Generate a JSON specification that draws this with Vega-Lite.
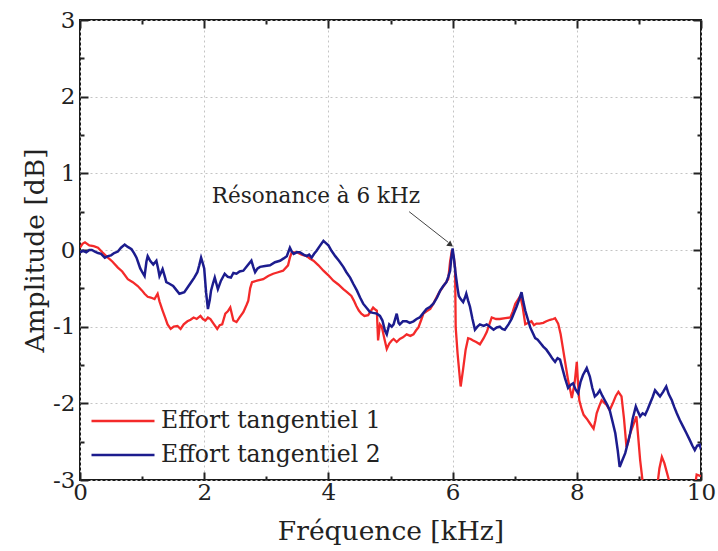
{
  "$schema": "https://vega.github.io/schema/vega-lite/v6.json",
  "width": 621,
  "height": 460,
  "autosize": {"type": "none"},
  "padding": {"left": 80, "top": 20, "right": 17, "bottom": 71},
  "background": "white",
  "config": {
    "view": {"stroke": "#1a1a1a", "strokeWidth": 2},
    "font": "DejaVu Serif",
    "text": {"font": "DejaVu Serif"}
  },
  "datasets": {
    "r": [
      {"f":0.00,"a":0.03},{"f":0.04,"a":0.08},{"f":0.08,"a":0.10},{"f":0.15,"a":0.06},{"f":0.22,"a":0.05},{"f":0.29,"a":0.03},{"f":0.36,"a":-0.03},{"f":0.45,"a":-0.10},{"f":0.52,"a":-0.15},{"f":0.61,"a":-0.23},{"f":0.68,"a":-0.28},{"f":0.77,"a":-0.38},{"f":0.85,"a":-0.42},{"f":0.93,"a":-0.47},{"f":1.00,"a":-0.53},{"f":1.04,"a":-0.57},{"f":1.09,"a":-0.61},{"f":1.14,"a":-0.62},{"f":1.20,"a":-0.64},{"f":1.25,"a":-0.57},{"f":1.28,"a":-0.67},{"f":1.33,"a":-0.79},{"f":1.37,"a":-0.88},{"f":1.41,"a":-0.97},{"f":1.46,"a":-1.03},{"f":1.51,"a":-1.00},{"f":1.57,"a":-0.99},{"f":1.62,"a":-1.03},{"f":1.67,"a":-0.97},{"f":1.73,"a":-0.93},{"f":1.78,"a":-0.91},{"f":1.83,"a":-0.88},{"f":1.88,"a":-0.90},{"f":1.94,"a":-0.86},{"f":1.98,"a":-0.90},{"f":2.02,"a":-0.92},{"f":2.06,"a":-0.88},{"f":2.10,"a":-0.90},{"f":2.15,"a":-0.96},{"f":2.21,"a":-1.03},{"f":2.25,"a":-0.98},{"f":2.29,"a":-0.97},{"f":2.34,"a":-0.83},{"f":2.38,"a":-0.80},{"f":2.42,"a":-0.75},{"f":2.47,"a":-0.92},{"f":2.52,"a":-0.94},{"f":2.57,"a":-0.88},{"f":2.63,"a":-0.81},{"f":2.68,"a":-0.72},{"f":2.71,"a":-0.66},{"f":2.74,"a":-0.50},{"f":2.77,"a":-0.42},{"f":2.85,"a":-0.40},{"f":2.95,"a":-0.38},{"f":3.03,"a":-0.34},{"f":3.11,"a":-0.31},{"f":3.19,"a":-0.29},{"f":3.27,"a":-0.27},{"f":3.35,"a":-0.20},{"f":3.38,"a":-0.10},{"f":3.41,"a":-0.03},{"f":3.49,"a":-0.03},{"f":3.57,"a":-0.06},{"f":3.65,"a":-0.08},{"f":3.70,"a":-0.11},{"f":3.76,"a":-0.14},{"f":3.84,"a":-0.20},{"f":3.92,"a":-0.27},{"f":4.00,"a":-0.33},{"f":4.08,"a":-0.40},{"f":4.16,"a":-0.45},{"f":4.24,"a":-0.51},{"f":4.30,"a":-0.55},{"f":4.37,"a":-0.60},{"f":4.41,"a":-0.66},{"f":4.45,"a":-0.73},{"f":4.49,"a":-0.79},{"f":4.53,"a":-0.83},{"f":4.58,"a":-0.86},{"f":4.64,"a":-0.85},{"f":4.68,"a":-0.80},{"f":4.72,"a":-0.75},{"f":4.76,"a":-0.78},{"f":4.78,"a":-0.79},{"f":4.80,"a":-1.18},{"f":4.83,"a":-0.97},{"f":4.86,"a":-1.00},{"f":4.90,"a":-1.15},{"f":4.94,"a":-1.29},{"f":4.98,"a":-1.22},{"f":5.02,"a":-1.18},{"f":5.05,"a":-1.16},{"f":5.10,"a":-1.20},{"f":5.15,"a":-1.16},{"f":5.20,"a":-1.14},{"f":5.26,"a":-1.10},{"f":5.32,"a":-1.12},{"f":5.37,"a":-1.10},{"f":5.41,"a":-1.05},{"f":5.45,"a":-1.01},{"f":5.50,"a":-0.90},{"f":5.53,"a":-0.83},{"f":5.58,"a":-0.80},{"f":5.64,"a":-0.77},{"f":5.69,"a":-0.70},{"f":5.74,"a":-0.62},{"f":5.78,"a":-0.56},{"f":5.82,"a":-0.51},{"f":5.87,"a":-0.45},{"f":5.93,"a":-0.38},{"f":5.96,"a":-0.15},{"f":5.99,"a":0.00},{"f":6.02,"a":-0.10},{"f":6.04,"a":-0.23},{"f":6.05,"a":-1.01},{"f":6.08,"a":-1.35},{"f":6.12,"a":-1.70},{"f":6.13,"a":-1.78},{"f":6.17,"a":-1.55},{"f":6.21,"a":-1.30},{"f":6.25,"a":-1.15},{"f":6.29,"a":-1.16},{"f":6.33,"a":-1.18},{"f":6.38,"a":-1.20},{"f":6.44,"a":-1.23},{"f":6.50,"a":-1.15},{"f":6.55,"a":-1.07},{"f":6.60,"a":-0.95},{"f":6.63,"a":-0.88},{"f":6.70,"a":-0.90},{"f":6.76,"a":-0.90},{"f":6.85,"a":-0.89},{"f":6.93,"a":-0.88},{"f":6.97,"a":-0.80},{"f":7.01,"a":-0.70},{"f":7.05,"a":-0.65},{"f":7.09,"a":-0.60},{"f":7.13,"a":-0.75},{"f":7.17,"a":-0.97},{"f":7.22,"a":-0.95},{"f":7.27,"a":-0.93},{"f":7.31,"a":-0.98},{"f":7.35,"a":-0.96},{"f":7.40,"a":-0.96},{"f":7.46,"a":-0.95},{"f":7.51,"a":-0.93},{"f":7.57,"a":-0.91},{"f":7.62,"a":-0.90},{"f":7.65,"a":-0.89},{"f":7.70,"a":-0.96},{"f":7.74,"a":-1.10},{"f":7.78,"a":-1.30},{"f":7.82,"a":-1.50},{"f":7.86,"a":-1.70},{"f":7.90,"a":-1.85},{"f":7.92,"a":-1.93},{"f":7.95,"a":-1.80},{"f":7.97,"a":-1.70},{"f":8.00,"a":-1.46},{"f":8.02,"a":-1.75},{"f":8.04,"a":-1.96},{"f":8.08,"a":-2.08},{"f":8.11,"a":-2.15},{"f":8.16,"a":-2.20},{"f":8.21,"a":-2.26},{"f":8.27,"a":-2.33},{"f":8.30,"a":-2.22},{"f":8.32,"a":-2.13},{"f":8.36,"a":-2.04},{"f":8.40,"a":-1.96},{"f":8.44,"a":-1.99},{"f":8.48,"a":-2.02},{"f":8.53,"a":-2.09},{"f":8.59,"a":-1.98},{"f":8.63,"a":-1.90},{"f":8.67,"a":-1.85},{"f":8.72,"a":-1.91},{"f":8.76,"a":-2.20},{"f":8.80,"a":-2.57},{"f":8.83,"a":-2.50},{"f":8.86,"a":-2.39},{"f":8.91,"a":-2.28},{"f":8.96,"a":-2.17},{"f":8.99,"a":-2.45},{"f":9.02,"a":-2.74},{"f":9.05,"a":-2.95},{"f":9.07,"a":-3.10},{"f":9.15,"a":-3.30},{"f":9.25,"a":-3.20},{"f":9.30,"a":-3.05},{"f":9.33,"a":-2.85},{"f":9.37,"a":-2.70},{"f":9.41,"a":-2.78},{"f":9.45,"a":-2.90},{"f":9.50,"a":-3.05},{"f":9.60,"a":-3.25},{"f":9.80,"a":-3.25},{"f":9.90,"a":-3.10},{"f":9.93,"a":-2.93},{"f":10.00,"a":-2.95}
    ],
    "b": [
      {"f":0.00,"a":-0.03},{"f":0.05,"a":-0.01},{"f":0.10,"a":-0.03},{"f":0.15,"a":0.00},{"f":0.19,"a":0.00},{"f":0.24,"a":-0.02},{"f":0.29,"a":-0.04},{"f":0.34,"a":-0.05},{"f":0.40,"a":-0.10},{"f":0.45,"a":-0.08},{"f":0.50,"a":-0.07},{"f":0.55,"a":-0.04},{"f":0.61,"a":-0.02},{"f":0.66,"a":0.03},{"f":0.72,"a":0.07},{"f":0.77,"a":0.04},{"f":0.83,"a":0.01},{"f":0.87,"a":-0.04},{"f":0.91,"a":-0.10},{"f":0.94,"a":-0.17},{"f":0.97,"a":-0.24},{"f":1.01,"a":-0.30},{"f":1.04,"a":-0.34},{"f":1.07,"a":-0.15},{"f":1.09,"a":-0.08},{"f":1.13,"a":-0.14},{"f":1.18,"a":-0.19},{"f":1.23,"a":-0.14},{"f":1.26,"a":-0.25},{"f":1.28,"a":-0.34},{"f":1.33,"a":-0.25},{"f":1.36,"a":-0.33},{"f":1.39,"a":-0.42},{"f":1.44,"a":-0.44},{"f":1.50,"a":-0.47},{"f":1.55,"a":-0.52},{"f":1.60,"a":-0.57},{"f":1.64,"a":-0.56},{"f":1.68,"a":-0.55},{"f":1.74,"a":-0.48},{"f":1.79,"a":-0.42},{"f":1.84,"a":-0.36},{"f":1.89,"a":-0.29},{"f":1.92,"a":-0.20},{"f":1.95,"a":-0.10},{"f":1.98,"a":-0.18},{"f":2.00,"a":-0.24},{"f":2.03,"a":-0.55},{"f":2.06,"a":-0.77},{"f":2.09,"a":-0.65},{"f":2.11,"a":-0.53},{"f":2.14,"a":-0.44},{"f":2.17,"a":-0.36},{"f":2.20,"a":-0.45},{"f":2.22,"a":-0.51},{"f":2.27,"a":-0.40},{"f":2.33,"a":-0.31},{"f":2.38,"a":-0.35},{"f":2.43,"a":-0.36},{"f":2.47,"a":-0.30},{"f":2.52,"a":-0.31},{"f":2.57,"a":-0.28},{"f":2.63,"a":-0.27},{"f":2.70,"a":-0.20},{"f":2.76,"a":-0.14},{"f":2.79,"a":-0.22},{"f":2.82,"a":-0.29},{"f":2.86,"a":-0.24},{"f":2.90,"a":-0.22},{"f":2.98,"a":-0.21},{"f":3.06,"a":-0.20},{"f":3.14,"a":-0.16},{"f":3.22,"a":-0.14},{"f":3.28,"a":-0.11},{"f":3.33,"a":-0.08},{"f":3.38,"a":0.03},{"f":3.41,"a":-0.02},{"f":3.44,"a":-0.05},{"f":3.49,"a":-0.03},{"f":3.54,"a":-0.03},{"f":3.60,"a":-0.06},{"f":3.65,"a":-0.08},{"f":3.69,"a":-0.06},{"f":3.73,"a":-0.10},{"f":3.77,"a":-0.05},{"f":3.81,"a":-0.01},{"f":3.86,"a":0.05},{"f":3.92,"a":0.12},{"f":3.96,"a":0.09},{"f":4.00,"a":0.06},{"f":4.05,"a":-0.01},{"f":4.11,"a":-0.08},{"f":4.17,"a":-0.14},{"f":4.24,"a":-0.22},{"f":4.29,"a":-0.29},{"f":4.35,"a":-0.36},{"f":4.40,"a":-0.44},{"f":4.46,"a":-0.53},{"f":4.51,"a":-0.62},{"f":4.56,"a":-0.70},{"f":4.62,"a":-0.76},{"f":4.67,"a":-0.81},{"f":4.72,"a":-0.82},{"f":4.78,"a":-0.83},{"f":4.83,"a":-0.86},{"f":4.87,"a":-0.92},{"f":4.91,"a":-1.05},{"f":4.94,"a":-1.10},{"f":4.98,"a":-0.97},{"f":5.02,"a":-1.00},{"f":5.05,"a":-0.97},{"f":5.10,"a":-0.83},{"f":5.13,"a":-0.95},{"f":5.15,"a":-0.97},{"f":5.20,"a":-0.93},{"f":5.26,"a":-0.93},{"f":5.31,"a":-0.95},{"f":5.37,"a":-0.93},{"f":5.42,"a":-0.90},{"f":5.47,"a":-0.88},{"f":5.53,"a":-0.82},{"f":5.58,"a":-0.77},{"f":5.64,"a":-0.74},{"f":5.69,"a":-0.70},{"f":5.75,"a":-0.62},{"f":5.80,"a":-0.53},{"f":5.85,"a":-0.47},{"f":5.90,"a":-0.42},{"f":5.93,"a":-0.35},{"f":5.96,"a":-0.27},{"f":5.98,"a":-0.10},{"f":6.00,"a":0.02},{"f":6.02,"a":-0.10},{"f":6.05,"a":-0.32},{"f":6.08,"a":-0.50},{"f":6.10,"a":-0.60},{"f":6.13,"a":-0.64},{"f":6.17,"a":-0.68},{"f":6.20,"a":-0.62},{"f":6.22,"a":-0.57},{"f":6.25,"a":-0.66},{"f":6.28,"a":-0.74},{"f":6.32,"a":-0.90},{"f":6.36,"a":-1.04},{"f":6.40,"a":-1.00},{"f":6.44,"a":-0.97},{"f":6.50,"a":-0.99},{"f":6.55,"a":-0.97},{"f":6.60,"a":-1.00},{"f":6.66,"a":-1.04},{"f":6.71,"a":-1.01},{"f":6.76,"a":-1.00},{"f":6.80,"a":-1.03},{"f":6.84,"a":-1.04},{"f":6.90,"a":-0.97},{"f":6.95,"a":-0.90},{"f":7.00,"a":-0.80},{"f":7.03,"a":-0.74},{"f":7.07,"a":-0.65},{"f":7.11,"a":-0.55},{"f":7.14,"a":-0.68},{"f":7.17,"a":-0.79},{"f":7.21,"a":-0.90},{"f":7.25,"a":-1.01},{"f":7.29,"a":-1.08},{"f":7.33,"a":-1.15},{"f":7.37,"a":-1.17},{"f":7.42,"a":-1.22},{"f":7.46,"a":-1.26},{"f":7.51,"a":-1.30},{"f":7.57,"a":-1.37},{"f":7.61,"a":-1.42},{"f":7.65,"a":-1.46},{"f":7.69,"a":-1.41},{"f":7.73,"a":-1.43},{"f":7.77,"a":-1.55},{"f":7.81,"a":-1.67},{"f":7.86,"a":-1.80},{"f":7.90,"a":-1.76},{"f":7.94,"a":-1.74},{"f":7.98,"a":-1.82},{"f":8.02,"a":-1.87},{"f":8.06,"a":-1.72},{"f":8.10,"a":-1.63},{"f":8.16,"a":-1.54},{"f":8.21,"a":-1.65},{"f":8.25,"a":-1.80},{"f":8.29,"a":-1.91},{"f":8.33,"a":-1.88},{"f":8.37,"a":-1.83},{"f":8.41,"a":-1.90},{"f":8.45,"a":-1.96},{"f":8.49,"a":-2.02},{"f":8.53,"a":-2.09},{"f":8.57,"a":-2.22},{"f":8.62,"a":-2.39},{"f":8.66,"a":-2.62},{"f":8.69,"a":-2.83},{"f":8.73,"a":-2.75},{"f":8.78,"a":-2.65},{"f":8.82,"a":-2.52},{"f":8.86,"a":-2.39},{"f":8.90,"a":-2.20},{"f":8.95,"a":-2.04},{"f":8.98,"a":-2.10},{"f":9.02,"a":-2.17},{"f":9.06,"a":-2.13},{"f":9.10,"a":-2.15},{"f":9.14,"a":-2.08},{"f":9.18,"a":-2.00},{"f":9.22,"a":-1.92},{"f":9.26,"a":-1.83},{"f":9.30,"a":-1.87},{"f":9.34,"a":-1.91},{"f":9.39,"a":-1.85},{"f":9.44,"a":-1.78},{"f":9.48,"a":-1.88},{"f":9.53,"a":-1.96},{"f":9.57,"a":-2.05},{"f":9.61,"a":-2.13},{"f":9.66,"a":-2.22},{"f":9.71,"a":-2.30},{"f":9.76,"a":-2.38},{"f":9.82,"a":-2.48},{"f":9.86,"a":-2.55},{"f":9.90,"a":-2.61},{"f":9.94,"a":-2.55},{"f":9.98,"a":-2.54},{"f":10.00,"a":-2.60}
    ],
    "ann": [{"f": 3.8, "a": 0.69, "t": "Résonance à 6 kHz"}],
    "arr": [{"f": 5.30, "a": 0.50, "f2": 5.93, "a2": 0.10}],
    "head": [{"f": 5.955, "a": 0.075}]
  },
  "layer": [
    {
      "data": {"name": "r"},
      "mark": {"type": "line", "clip": true, "strokeWidth": 2.3, "interpolate": "linear"},
      "encoding": {
        "x": {
          "field": "f", "type": "quantitative",
          "scale": {"domain": [0, 10], "nice": false, "zero": false},
          "axis": {
            "orient": "bottom",
            "title": "Fréquence [kHz]",
            "values": [0,1,2,3,4,5,6,7,8,9,10],
            "labelExpr": "datum.value % 2 === 0 ? '' + datum.value : ''",
            "labelFontSize": 23, "labelColor": "#222", "labelPadding": 9, "labelFlush": false,
            "titleFontSize": 26.5, "titleFontWeight": "normal", "titleColor": "#222", "titlePadding": 14,
            "domain": false,
            "tickColor": "#222", "tickWidth": 2,
            "tickSize": {"condition": {"test": "datum.value % 2 === 0", "value": -8}, "value": -4},
            "grid": true, "gridDash": [2, 3], "gridWidth": 1,
            "gridColor": {"condition": {"test": "datum.value % 2 === 0", "value": "#c4c4c4"}, "value": "transparent"}
          }
        },
        "y": {
          "field": "a", "type": "quantitative",
          "scale": {"domain": [-3, 3], "nice": false, "zero": false},
          "axis": {
            "orient": "left",
            "title": "Amplitude [dB]",
            "values": [-3,-2.5,-2,-1.5,-1,-0.5,0,0.5,1,1.5,2,2.5,3],
            "labelExpr": "datum.value % 1 === 0 ? (datum.value < 0 ? '-' + (-datum.value) : '' + datum.value) : ''",
            "labelFontSize": 23, "labelColor": "#222", "labelPadding": 13,
            "titleFontSize": 26.5, "titleFontWeight": "normal", "titleColor": "#222", "titlePadding": 3,
            "domain": false,
            "tickColor": "#222", "tickWidth": 2,
            "tickSize": {"condition": {"test": "datum.value % 1 === 0", "value": -8}, "value": -4},
            "grid": true, "gridDash": [2, 3], "gridWidth": 1,
            "gridColor": {"condition": {"test": "datum.value % 1 === 0", "value": "#c4c4c4"}, "value": "transparent"}
          }
        },
        "color": {
          "datum": "Effort tangentiel 1",
          "type": "nominal",
          "scale": {"domain": ["Effort tangentiel 1", "Effort tangentiel 2"], "range": ["#f42a2a", "#1c1c8e"]},
          "legend": {
            "orient": "none", "legendX": 31, "legendY": 389, "title": null, "padding": 0,
            "symbolType": "M-3,0H3", "symbolSize": 441, "symbolStrokeWidth": 2.3,
            "symbolFillColor": "transparent",
            "labelFontSize": 23.5, "labelColor": "#222", "labelFont": "DejaVu Serif", "labelOffset": 26,
            "labelLimit": 400,
            "rowPadding": 10
          }
        }
      }
    },
    {
      "data": {"name": "b"},
      "mark": {"type": "line", "clip": true, "strokeWidth": 2.5, "interpolate": "linear"},
      "encoding": {
        "x": {"field": "f", "type": "quantitative",
          "axis": {
            "orient": "top", "title": null, "labels": false, "domain": false, "grid": false,
            "values": [0,1,2,3,4,5,6,7,8,9,10],
            "tickColor": "#222", "tickWidth": 2,
            "tickSize": {"condition": {"test": "datum.value % 2 === 0", "value": -8}, "value": -4}
          }},
        "y": {"field": "a", "type": "quantitative",
          "axis": {
            "orient": "right", "title": null, "labels": false, "domain": false, "grid": false,
            "values": [-3,-2.5,-2,-1.5,-1,-0.5,0,0.5,1,1.5,2,2.5,3],
            "tickColor": "#222", "tickWidth": 2,
            "tickSize": {"condition": {"test": "datum.value % 1 === 0", "value": -8}, "value": -4}
          }},
        "color": {"datum": "Effort tangentiel 2", "type": "nominal"}
      }
    },
    {
      "data": {"name": "arr"},
      "mark": {"type": "rule", "color": "#444", "strokeWidth": 1},
      "encoding": {
        "x": {"field": "f", "type": "quantitative", "axis": null},
        "y": {"field": "a", "type": "quantitative", "axis": null},
        "x2": {"field": "f2"},
        "y2": {"field": "a2"}
      }
    },
    {
      "data": {"name": "head"},
      "mark": {"type": "point", "shape": "triangle", "filled": true, "color": "#333", "size": 45, "angle": 127, "opacity": 1},
      "encoding": {
        "x": {"field": "f", "type": "quantitative", "axis": null},
        "y": {"field": "a", "type": "quantitative", "axis": null}
      }
    },
    {
      "data": {"name": "ann"},
      "mark": {"type": "text", "fontSize": 21.5, "color": "#222", "align": "center", "baseline": "middle", "font": "DejaVu Serif"},
      "encoding": {
        "x": {"field": "f", "type": "quantitative", "axis": null},
        "y": {"field": "a", "type": "quantitative", "axis": null},
        "text": {"field": "t"}
      }
    }
  ],
  "resolve": {"axis": {"x": "independent", "y": "independent"}}
}
